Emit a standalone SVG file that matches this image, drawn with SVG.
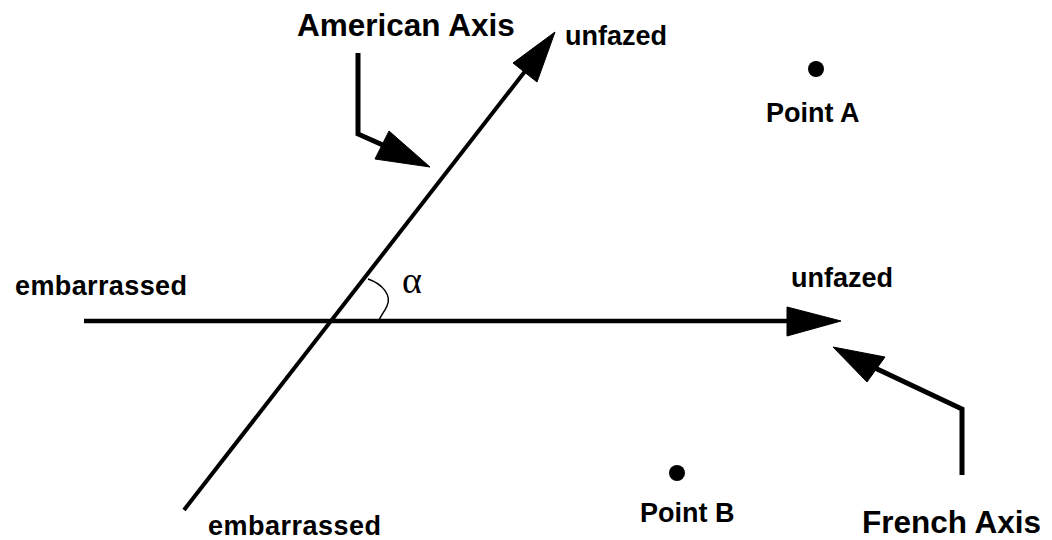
<svg xmlns="http://www.w3.org/2000/svg" width="1052" height="540" viewBox="0 0 1052 540">
<style>
.lbl{font-family:"Liberation Sans",Arial,sans-serif;font-weight:bold;fill:#000}
.big{font-size:31.5px}
.mid{font-size:27px}
.ln{stroke:#000;fill:none;stroke-linecap:butt;stroke-linejoin:miter}
.head{fill:#000;stroke:#000;stroke-width:1;stroke-linejoin:miter}
</style>
<rect width="1052" height="540" fill="#fff"/>
<g id="connectors">
  <line class="ln" x1="84" y1="321" x2="792" y2="321" stroke-width="4.5"/>
  <polygon class="head" points="841,321 787,307 787,336"/>
  <line class="ln" x1="184" y1="510" x2="526" y2="70" stroke-width="4"/>
  <polygon class="head" points="555,32 537,82 513,63"/>
  <path class="ln" d="M368,279 C383,284 392,296 387,306 C384,313 380,316 379,321" stroke-width="1.5"/>
  <polyline class="ln" points="358,53 358,134 385,146" stroke-width="5"/>
  <polygon class="head" points="430,167 389,131 375,159"/>
  <polyline class="ln" points="962,475 962,409 875,368" stroke-width="5"/>
  <polygon class="head" points="833,347 885,357 867,382"/>
</g>
<g id="american-axis-label"><text class="lbl big" x="297" y="36">American Axis</text></g>
<g id="french-axis-label"><text class="lbl big" x="862" y="533">French Axis</text></g>
<g id="american-unfazed"><text class="lbl mid" x="565" y="45">unfazed</text></g>
<g id="french-unfazed"><text class="lbl mid" x="791" y="287">unfazed</text></g>
<g id="french-embarrassed"><text class="lbl mid" x="15" y="295" textLength="172">embarrassed</text></g>
<g id="american-embarrassed"><text class="lbl mid" x="208" y="535" textLength="173">embarrassed</text></g>
<g id="alpha"><text x="402" y="293" font-family="'Liberation Serif','Times New Roman',serif" font-size="38" fill="#000">α</text></g>
<g id="point-a">
  <circle cx="816" cy="69" r="8" fill="#000"/>
  <text class="lbl mid" x="766" y="122">Point A</text>
</g>
<g id="point-b">
  <circle cx="677" cy="473" r="8" fill="#000"/>
  <text class="lbl mid" x="640" y="522">Point B</text>
</g>
</svg>
